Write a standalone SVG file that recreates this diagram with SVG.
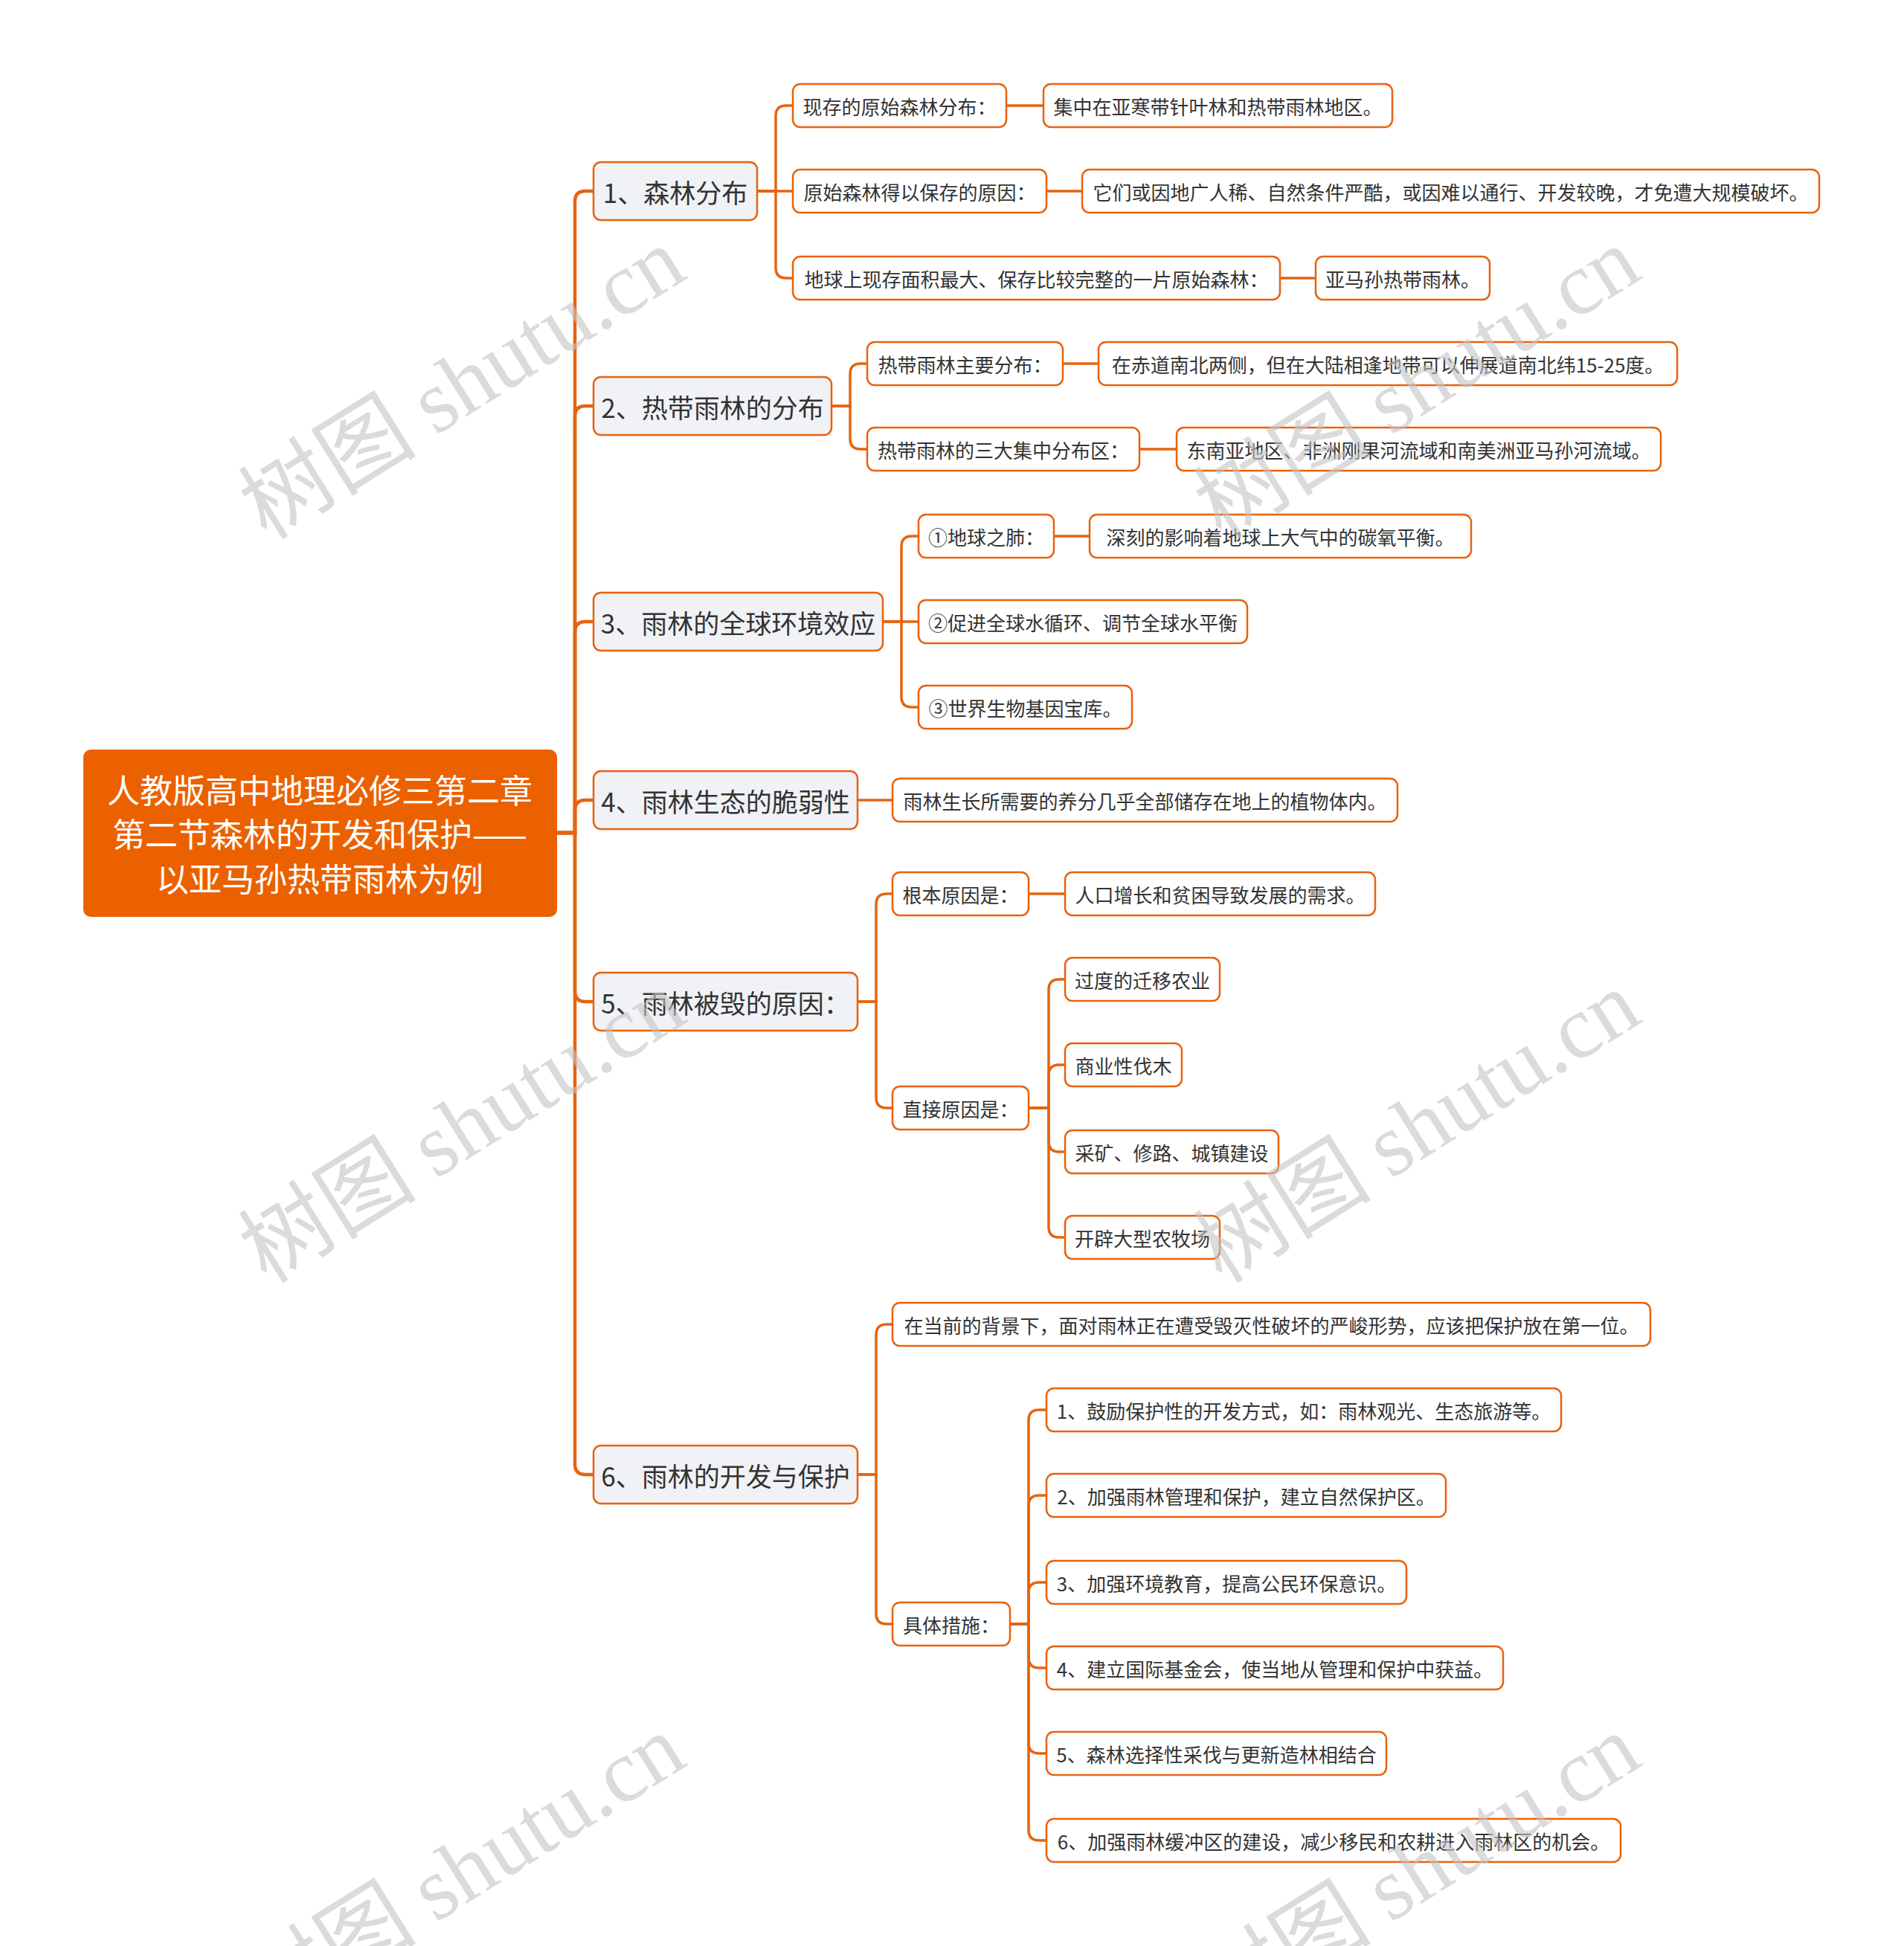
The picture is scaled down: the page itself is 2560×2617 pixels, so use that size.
<svg xmlns="http://www.w3.org/2000/svg" width="2560" height="2617" viewBox="0 0 2560 2617">
<style>
.t{font-family:"Noto Sans CJK SC","Microsoft YaHei",sans-serif;fill:#333;text-anchor:middle;dominant-baseline:central}
.t2{font-size:26px}
.t1{font-size:35px}
.tr{font-size:44px;fill:#fff}
.b{fill:#fff;stroke:#E8620E;stroke-width:2.5}
.b1{fill:#F0F2F5;stroke:#E8620E;stroke-width:2.5}
.br{fill:#EB6100}
.c{fill:none;stroke:#E5640F;stroke-width:3.5;stroke-linecap:round}
.ct{fill:none;stroke:#E5640F;stroke-width:4.5;stroke-linecap:round}
.wm{font-family:"Noto Sans CJK SC",serif;font-size:120px;fill:#c4c4c4;opacity:0.6;text-anchor:middle}
.wl{font-family:"Liberation Serif",serif}
</style>
<rect width="2560" height="2617" fill="#fff"/>
<g id="connectors">
<path class="ct" d="M749 1120H773V271Q773 257 787 257H798"/>
<path class="ct" d="M749 1120H773V560Q773 546 787 546H798"/>
<path class="ct" d="M749 1120H773V850Q773 836 787 836H798"/>
<path class="ct" d="M749 1120H773V1090Q773 1076 787 1076H798"/>
<path class="ct" d="M749 1120H773V1333Q773 1347 787 1347H798"/>
<path class="ct" d="M749 1120H773V1969Q773 1983 787 1983H798"/>
<path class="c" d="M1018 257H1043V156Q1043 142 1057 142H1066"/>
<path class="c" d="M1018 257H1066"/>
<path class="c" d="M1018 257H1043V360Q1043 374 1057 374H1066"/>
<path class="c" d="M1353 142H1403"/>
<path class="c" d="M1407 257H1455"/>
<path class="c" d="M1721 374H1769"/>
<path class="c" d="M1118 546H1143V503Q1143 489 1157 489H1166"/>
<path class="c" d="M1118 546H1143V590Q1143 604 1157 604H1166"/>
<path class="c" d="M1429 489H1477"/>
<path class="c" d="M1532 604H1582"/>
<path class="c" d="M1187 836H1212V735Q1212 721 1226 721H1235"/>
<path class="c" d="M1187 836H1235"/>
<path class="c" d="M1187 836H1212V937Q1212 951 1226 951H1235"/>
<path class="c" d="M1417 721H1465"/>
<path class="c" d="M1153 1076H1200"/>
<path class="c" d="M1153 1347H1178V1216Q1178 1202 1192 1202H1200"/>
<path class="c" d="M1153 1347H1178V1476Q1178 1490 1192 1490H1200"/>
<path class="c" d="M1383 1202H1432"/>
<path class="c" d="M1383 1490H1410V1331Q1410 1317 1424 1317H1432"/>
<path class="c" d="M1383 1490H1410V1446Q1410 1432 1424 1432H1432"/>
<path class="c" d="M1383 1490H1410V1535Q1410 1549 1424 1549H1432"/>
<path class="c" d="M1383 1490H1410V1650Q1410 1664 1424 1664H1432"/>
<path class="c" d="M1153 1983H1178V1795Q1178 1781 1192 1781H1200"/>
<path class="c" d="M1153 1983H1178V2170Q1178 2184 1192 2184H1200"/>
<path class="c" d="M1358 2184H1383V1910Q1383 1896 1397 1896H1407"/>
<path class="c" d="M1358 2184H1383V2025Q1383 2011 1397 2011H1407"/>
<path class="c" d="M1358 2184H1383V2142Q1383 2128 1397 2128H1407"/>
<path class="c" d="M1358 2184H1383V2229Q1383 2243 1397 2243H1407"/>
<path class="c" d="M1358 2184H1383V2344Q1383 2358 1397 2358H1407"/>
<path class="c" d="M1358 2184H1383V2461Q1383 2475 1397 2475H1407"/>
</g>
<g id="root"><rect class="br" x="112" y="1008" width="637" height="225" rx="10"/>
<text class="t tr" x="430" y="1061">人教版高中地理必修三第二章</text>
<text class="t tr" x="430" y="1120">第二节森林的开发和保护——</text>
<text class="t tr" x="430" y="1180">以亚马孙热带雨林为例</text></g>
<g id="n1"><rect class="b1" x="798" y="218" width="220" height="78" rx="10"/><text class="t t1" x="908" y="257">1、森林分布</text></g>
<g id="n2"><rect class="b1" x="798" y="507" width="320" height="78" rx="10"/><text class="t t1" x="958" y="546">2、热带雨林的分布</text></g>
<g id="n3"><rect class="b1" x="798" y="797" width="389" height="78" rx="10"/><text class="t t1" x="992.5" y="836">3、雨林的全球环境效应</text></g>
<g id="n4"><rect class="b1" x="798" y="1037" width="355" height="78" rx="10"/><text class="t t1" x="975.5" y="1076">4、雨林生态的脆弱性</text></g>
<g id="n5"><rect class="b1" x="798" y="1308" width="355" height="78" rx="10"/><text class="t t1" x="975.5" y="1347">5、雨林被毁的原因：</text></g>
<g id="n6"><rect class="b1" x="798" y="1944" width="355" height="78" rx="10"/><text class="t t1" x="975.5" y="1983">6、雨林的开发与保护</text></g>
<g id="n1a"><rect class="b" x="1066" y="113" width="287" height="58" rx="10"/><text class="t t2" x="1209.5" y="142">现存的原始森林分布：</text></g>
<g id="n1a1"><rect class="b" x="1403" y="113" width="469" height="58" rx="10"/><text class="t t2" x="1637.5" y="142">集中在亚寒带针叶林和热带雨林地区。</text></g>
<g id="n1b"><rect class="b" x="1066" y="228" width="341" height="58" rx="10"/><text class="t t2" x="1236.5" y="257">原始森林得以保存的原因：</text></g>
<g id="n1b1"><rect class="b" x="1455" y="228" width="991" height="58" rx="10"/><text class="t t2" x="1950.5" y="257">它们或因地广人稀、自然条件严酷，或因难以通行、开发较晚，才免遭大规模破坏。</text></g>
<g id="n1c"><rect class="b" x="1066" y="345" width="655" height="58" rx="10"/><text class="t t2" x="1393.5" y="374">地球上现存面积最大、保存比较完整的一片原始森林：</text></g>
<g id="n1c1"><rect class="b" x="1769" y="345" width="234" height="58" rx="10"/><text class="t t2" x="1886" y="374">亚马孙热带雨林。</text></g>
<g id="n2a"><rect class="b" x="1166" y="460" width="263" height="58" rx="10"/><text class="t t2" x="1297.5" y="489">热带雨林主要分布：</text></g>
<g id="n2a1"><rect class="b" x="1477" y="460" width="778" height="58" rx="10"/><text class="t t2" x="1866" y="489">在赤道南北两侧，但在大陆相逢地带可以伸展道南北纬15-25度。</text></g>
<g id="n2b"><rect class="b" x="1166" y="575" width="366" height="58" rx="10"/><text class="t t2" x="1349" y="604">热带雨林的三大集中分布区：</text></g>
<g id="n2b1"><rect class="b" x="1582" y="575" width="651" height="58" rx="10"/><text class="t t2" x="1907.5" y="604">东南亚地区、非洲刚果河流域和南美洲亚马孙河流域。</text></g>
<g id="n3a"><rect class="b" x="1235" y="692" width="182" height="58" rx="10"/><text class="t t2" x="1326" y="721">①地球之肺：</text></g>
<g id="n3a1"><rect class="b" x="1465" y="692" width="513" height="58" rx="10"/><text class="t t2" x="1721.5" y="721">深刻的影响着地球上大气中的碳氧平衡。</text></g>
<g id="n3b"><rect class="b" x="1235" y="807" width="442" height="58" rx="10"/><text class="t t2" x="1456" y="836">②促进全球水循环、调节全球水平衡</text></g>
<g id="n3c"><rect class="b" x="1235" y="922" width="287" height="58" rx="10"/><text class="t t2" x="1378.5" y="951">③世界生物基因宝库。</text></g>
<g id="n4a"><rect class="b" x="1200" y="1047" width="679" height="58" rx="10"/><text class="t t2" x="1539.5" y="1076">雨林生长所需要的养分几乎全部储存在地上的植物体内。</text></g>
<g id="n5a"><rect class="b" x="1200" y="1173" width="183" height="58" rx="10"/><text class="t t2" x="1291.5" y="1202">根本原因是：</text></g>
<g id="n5a1"><rect class="b" x="1432" y="1173" width="417" height="58" rx="10"/><text class="t t2" x="1640.5" y="1202">人口增长和贫困导致发展的需求。</text></g>
<g id="n5b"><rect class="b" x="1200" y="1461" width="183" height="58" rx="10"/><text class="t t2" x="1291.5" y="1490">直接原因是：</text></g>
<g id="n5b1"><rect class="b" x="1432" y="1288" width="208" height="58" rx="10"/><text class="t t2" x="1536" y="1317">过度的迁移农业</text></g>
<g id="n5b2"><rect class="b" x="1432" y="1403" width="157" height="58" rx="10"/><text class="t t2" x="1510.5" y="1432">商业性伐木</text></g>
<g id="n5b3"><rect class="b" x="1432" y="1520" width="287" height="58" rx="10"/><text class="t t2" x="1575.5" y="1549">采矿、修路、城镇建设</text></g>
<g id="n5b4"><rect class="b" x="1432" y="1635" width="208" height="58" rx="10"/><text class="t t2" x="1536" y="1664">开辟大型农牧场</text></g>
<g id="n6a"><rect class="b" x="1200" y="1752" width="1019" height="58" rx="10"/><text class="t t2" x="1709.5" y="1781">在当前的背景下，面对雨林正在遭受毁灭性破坏的严峻形势，应该把保护放在第一位。</text></g>
<g id="n6b"><rect class="b" x="1200" y="2155" width="158" height="58" rx="10"/><text class="t t2" x="1279" y="2184">具体措施：</text></g>
<g id="n6b1"><rect class="b" x="1407" y="1867" width="692" height="58" rx="10"/><text class="t t2" x="1753" y="1896">1、鼓励保护性的开发方式，如：雨林观光、生态旅游等。</text></g>
<g id="n6b2"><rect class="b" x="1407" y="1982" width="537" height="58" rx="10"/><text class="t t2" x="1675.5" y="2011">2、加强雨林管理和保护，建立自然保护区。</text></g>
<g id="n6b3"><rect class="b" x="1407" y="2099" width="484" height="58" rx="10"/><text class="t t2" x="1649" y="2128">3、加强环境教育，提高公民环保意识。</text></g>
<g id="n6b4"><rect class="b" x="1407" y="2214" width="614" height="58" rx="10"/><text class="t t2" x="1714" y="2243">4、建立国际基金会，使当地从管理和保护中获益。</text></g>
<g id="n6b5"><rect class="b" x="1407" y="2329" width="457" height="58" rx="10"/><text class="t t2" x="1635.5" y="2358">5、森林选择性采伐与更新造林相结合</text></g>
<g id="n6b6"><rect class="b" x="1407" y="2446" width="772" height="58" rx="10"/><text class="t t2" x="1793" y="2475">6、加强雨林缓冲区的建设，减少移民和农耕进入雨林区的机会。</text></g>
<g id="watermarks">
<text class="wm" transform="translate(643 550) rotate(-32)">树图 <tspan class="wl">shutu.cn</tspan></text>
<text class="wm" transform="translate(1927 550) rotate(-32)">树图 <tspan class="wl">shutu.cn</tspan></text>
<text class="wm" transform="translate(643 1550) rotate(-32)">树图 <tspan class="wl">shutu.cn</tspan></text>
<text class="wm" transform="translate(1927 1550) rotate(-32)">树图 <tspan class="wl">shutu.cn</tspan></text>
<text class="wm" transform="translate(643 2550) rotate(-32)">树图 <tspan class="wl">shutu.cn</tspan></text>
<text class="wm" transform="translate(1927 2550) rotate(-32)">树图 <tspan class="wl">shutu.cn</tspan></text>
</g>
</svg>
